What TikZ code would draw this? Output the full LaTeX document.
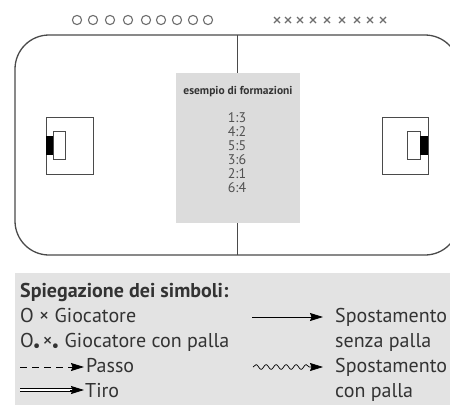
\documentclass[tikz,border=0pt]{standalone}
\usepackage{fontspec}
\setmainfont{PT Sans}
\usetikzlibrary{arrows.meta,decorations.pathmorphing}
\definecolor{ink}{HTML}{333333}
\definecolor{fieldgray}{HTML}{4A4A4A}
\definecolor{boxgray}{HTML}{DCDCDC}
\definecolor{legendgray}{HTML}{E3E3E3}
\newcommand\balldot{\kern-1pt\raisebox{-0.24em}{\fontsize{17}{17}\selectfont •}}
\tikzset{
  fieldline/.style={draw=fieldgray, line width=1.3pt},
  goalline/.style={draw=fieldgray, line width=0.9pt},
  plsym/.style={draw=fieldgray!80, line width=1.1pt},
  legtext/.style={anchor=base west, inner sep=0pt, text=ink, font=\fontsize{20}{22}\selectfont},
  numtext/.style={anchor=base, inner sep=0pt, text=ink!85, font=\fontsize{14}{15}\selectfont},
  tip/.style={-{Stealth[length=13pt,width=8pt,inset=1.5pt]}},
  legarrow/.style={draw=black, line width=0.8pt}
}
\begin{document}
\begin{tikzpicture}[x=1pt,y=-1pt]
\useasboundingbox (0,0) rectangle (450,405);
% legend background
\fill[legendgray] (15,273) rectangle (450,405);
% field
\begin{scope}
\clip (0,0) rectangle (450,405);
\draw[fieldline, rounded corners=34pt] (15,35) rectangle (459,255);
\end{scope}
\coordinate (midtop) at (237,35);
\coordinate (midbot) at (237,255);
\draw[fieldline, line width=1pt] (midtop) -- (midbot);
% formation box
\node[fill=boxgray, minimum width=124pt, minimum height=150pt, inner sep=0pt] (fbox) at (238,148) {};
\node[anchor=base, inner sep=0pt, text=ink, font=\bfseries\fontsize{11.5}{13}\selectfont] (ftitle) at (238,94) {esempio di formazioni};
\node[numtext] (f1) at (237,122) {1:3};
\node[numtext] (f2) at (237,136) {4:2};
\node[numtext] (f3) at (237,150) {5:5};
\node[numtext] (f4) at (237,164) {3:6};
\node[numtext] (f5) at (237,178) {2:1};
\node[numtext] (f6) at (237,192) {6:4};
% goals
\draw[goalline] (46,117) rectangle (93,174);
\draw[goalline] (53,131) rectangle (65,159);
\fill[black] (46,136) rectangle (53,155);
\draw[goalline] (382,117) rectangle (428,174);
\draw[goalline] (407,131) rectangle (420,159);
\fill[black] (420,136) rectangle (428,155);
% players top
\foreach \x in {77,93,110,128,146,161,177,193,208}
  \draw[plsym] (\x,20) circle (4.6pt);
\foreach \x in {277,288,300,313,327,342,357,370,383}
  \draw[plsym, line width=1.3pt] (\x-3,17) -- (\x+3,23) (\x-3,23) -- (\x+3,17);
% legend
\node[legtext, font=\bfseries\fontsize{20}{22}\selectfont] (lt) at (20,297) {Spiegazione dei simboli:};
\node[legtext] (l1) at (20,322) {O × Giocatore};
\node[legtext] (l2) at (20,347) {O\balldot\kern2pt ×\balldot\ Giocatore con palla};
\coordinate (pa) at (20,367);
\coordinate (pb) at (84,367);
\draw[legarrow, tip, dash pattern=on 7pt off 5pt] (pa) -- (pb);
\node[legtext] (l3) at (86,372) {Passo};
\coordinate (ta) at (20,390);
\coordinate (tm) at (72,390);
\coordinate (tb) at (84,390);
\draw[black, line width=0.9pt, double distance=2.8pt] (ta) -- (tm);
\draw[legarrow, tip] (70,390) -- (tb);
\node[legtext] (l4) at (85,397) {Tiro};
\coordinate (sa) at (252,317);
\coordinate (sb) at (323,317);
\draw[legarrow, tip] (sa) -- (sb);
\node[legtext] (r1) at (335,322) {Spostamento};
\node[legtext] (r2) at (335,347) {senza palla};
\coordinate (wa) at (253,367);
\coordinate (wb) at (323,367);
\draw[legarrow, line width=0.7pt, tip, decorate, decoration={snake, amplitude=2.4pt, segment length=10pt, post length=11pt}] (wa) -- (wb);
\node[legtext] (r3) at (335,372) {Spostamento};
\node[legtext] (r4) at (335,397) {con palla};
\end{tikzpicture}
\end{document}
